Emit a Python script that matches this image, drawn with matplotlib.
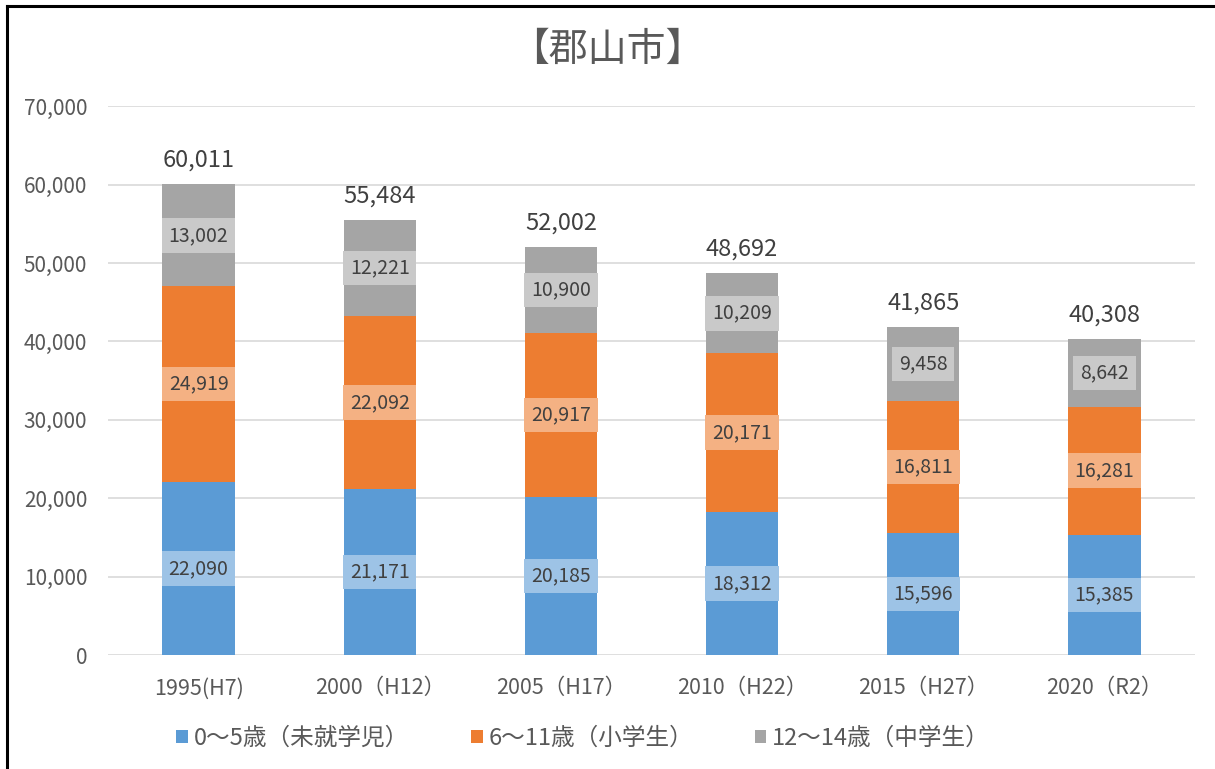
import matplotlib
matplotlib.use("Agg")
import matplotlib.pyplot as plt
from matplotlib.lines import Line2D
from matplotlib.patches import Patch
from matplotlib.ticker import FuncFormatter

plt.rcParams['font.family'] = ['Noto Sans CJK JP', 'DejaVu Sans']

categories = ["1995(H7)", "2000（H12）", "2005（H17）", "2010（H22）", "2015（H27）", "2020（R2）"]
age_0_5 = [22090, 21171, 20185, 18312, 15596, 15385]
age_6_11 = [24919, 22092, 20917, 20171, 16811, 16281]
age_12_14 = [13002, 12221, 10900, 10209, 9458, 8642]
totals = [60011, 55484, 52002, 48692, 41865, 40308]
series_names = ["0～5歳（未就学児）", "6～11歳（小学生）", "12～14歳（中学生）"]
title = "【郡山市】"

colors = ["#5B9BD5", "#ED7D31", "#A5A5A5"]
label_bg = ["#9DC3E6", "#F4B183", "#C9C9C9"]
text_col = "#404040"
tick_col = "#595959"

fig = plt.figure(figsize=(12.15, 7.69), dpi=100)
ax = fig.add_axes([0.0889, 0.148, 0.8946, 0.714])

x = list(range(len(categories)))
width = 0.40
bottoms = [0] * len(categories)
for vals, c, bg in zip([age_0_5, age_6_11, age_12_14], colors, label_bg):
    ax.bar(x, vals, width, bottom=bottoms, color=c, zorder=3)
    for xi, v, b in zip(x, vals, bottoms):
        ax.text(xi, b + v / 2, f"{v:,}", ha="center", va="center",
                fontsize=14, color=text_col, zorder=5,
                bbox=dict(boxstyle="square,pad=0.35", facecolor=bg, edgecolor="none"))
    bottoms = [b + v for b, v in zip(bottoms, vals)]

for xi, t, b in zip(x, totals, bottoms):
    ax.annotate(f"{t:,}", (xi, b), xytext=(0, 9), textcoords="offset points",
                ha="center", va="bottom", fontsize=17, color=text_col)

ax.set_xlim(-0.5, len(categories) - 0.5)
ax.set_ylim(0, 70000)
ax.set_yticks(range(0, 70001, 10000))
ax.yaxis.set_major_formatter(FuncFormatter(lambda v, p: f"{int(v):,}"))
ax.set_xticks(x)
ax.set_xticklabels(categories)
ax.tick_params(axis="both", length=0, colors=tick_col)
ax.tick_params(axis="x", pad=16, labelsize=15.5)
ax.tick_params(axis="y", pad=15, labelsize=15)
ax.grid(axis="y", color="#D9D9D9", linewidth=1.2, zorder=0)
ax.set_axisbelow(True)
for s in ax.spines.values():
    s.set_visible(False)

fig.text(0.5, 0.935, title, ha="center", va="center", fontsize=28, color="#595959")

handles = [Patch(facecolor=c, edgecolor="none") for c in colors]
fig.legend(handles, series_names, loc="center", bbox_to_anchor=(0.48, 0.04), ncol=3,
           frameon=False, fontsize=17, labelcolor=tick_col, handlelength=0.5,
           handleheight=0.5, handletextpad=0.25, columnspacing=2.6)

# outer frame (top and left edges visible)
fig.add_artist(Line2D([7 / 1215, 1.0], [1 - 6 / 769, 1 - 6 / 769], transform=fig.transFigure,
                      color="black", linewidth=2.2))
fig.add_artist(Line2D([7 / 1215, 7 / 1215], [0, 1 - 6 / 769], transform=fig.transFigure,
                      color="black", linewidth=2.2))

fig.savefig("out.png", dpi=100)
